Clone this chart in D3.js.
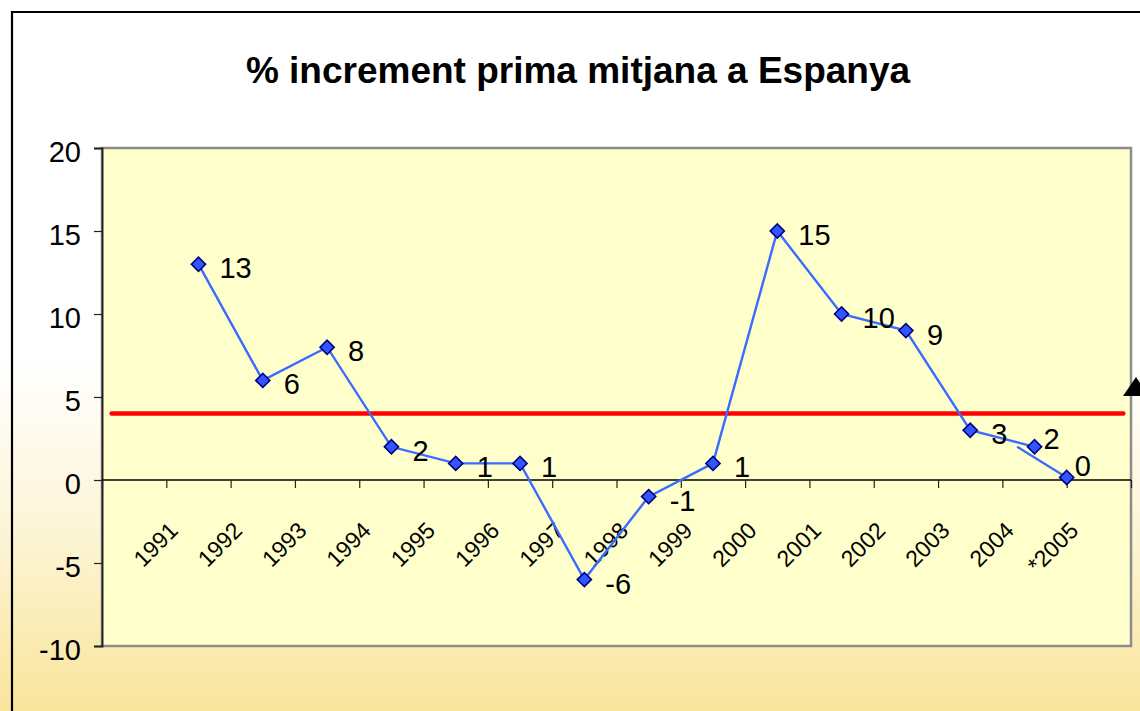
<!DOCTYPE html>
<html>
<head>
<meta charset="utf-8">
<script src="https://cdn.jsdelivr.net/npm/d3@7"></script>
<style>
  html, body { margin: 0; padding: 0; background: #fff; overflow: hidden; }
  svg { display: block; font-family: "Liberation Sans", Arial, sans-serif; }
</style>
</head>
<body>
<svg id="chart" width="1140" height="711"></svg>
<script>
// ---- data ----
const title = "% increment prima mitjana a Espanya";
const categories = ["1991","1992","1993","1994","1995","1996","1997","1998","1999","2000","2001","2002","2003","2004","*2005"];
const values = [13, 6, 8, 2, 1, 1, -6, -1, 1, 15, 10, 9, 3, 2, 0.15];
// where each point sits along the category axis (in slot units, as seen in the picture)
const pointSlots = [1.5, 2.5, 3.5, 4.5, 5.5, 6.5, 7.5, 8.5, 9.5, 10.5, 11.5, 12.5, 13.5, 14.5, 15];
const lastSegmentStartSlot = 14.23;   // final segment restarts slightly left of the 2004 point
const yTicks = [-10, -5, 0, 5, 10, 15, 20];
const slotCount = 16;
const refValue = 4;                   // red reference line
const refSpan = [0.15, 15.88];

// ---- layout ----
const W = 1140, H = 711;
const plot = { left: 102, right: 1131, top: 148, bottom: 646 };
const fmt = v => String(Math.round(v));   // hyphen-minus like the original

const svg = d3.select("#chart");
const defs = svg.append("defs");
const bg = defs.append("linearGradient").attr("id", "bg")
  .attr("x1", 0).attr("y1", 0).attr("x2", 0).attr("y2", 1);
bg.append("stop").attr("offset", "0%").attr("stop-color", "#ffffff");
bg.append("stop").attr("offset", "50%").attr("stop-color", "#ffffff");
bg.append("stop").attr("offset", "72%").attr("stop-color", "#fdf6dc");
bg.append("stop").attr("offset", "100%").attr("stop-color", "#f9e59c");

svg.append("rect").attr("x", 0).attr("y", 0).attr("width", W).attr("height", H).attr("fill", "url(#bg)");

// outer slide frame
svg.append("path").attr("d", `M12,${H + 5} L12,12 L${W + 5},12`)
  .attr("fill", "none").attr("stroke", "#000").attr("stroke-width", 2.2);

const x = d3.scaleLinear().domain([0, slotCount]).range([plot.left, plot.right]);
const y = d3.scaleLinear().domain([-10, 20]).range([plot.bottom, plot.top]);

// plot area
svg.append("rect")
  .attr("x", plot.left).attr("y", plot.top)
  .attr("width", plot.right - plot.left).attr("height", plot.bottom - plot.top)
  .attr("fill", "#ffffcc").attr("stroke", "#8c8c8c").attr("stroke-width", 2.5);

// title
svg.append("text").attr("x", 578).attr("y", 83).attr("text-anchor", "middle")
  .attr("font-size", 37).attr("font-weight", "bold").attr("fill", "#000").text(title);

// y axis
const yAxis = d3.axisLeft(y).tickValues(yTicks).tickSize(8).tickPadding(13).tickFormat(fmt);
const gy = svg.append("g").attr("transform", `translate(${plot.left},0)`).call(yAxis);
gy.select(".domain").attr("stroke", "#222").attr("stroke-width", 1.8);
gy.selectAll(".tick line").attr("stroke", "#222").attr("stroke-width", 1.2);
gy.selectAll(".tick text").attr("font-size", 29).attr("font-family", "Liberation Sans, Arial, sans-serif")
  .attr("fill", "#000").attr("dy", null).attr("y", 13.5);

// x axis on zero line
const xAxis = d3.axisBottom(x).tickValues(d3.range(0, slotCount + 1)).tickSize(8).tickFormat("");
const gx = svg.append("g").attr("transform", `translate(0,${y(0)})`).call(xAxis);
gx.select(".domain").attr("stroke", "#000").attr("stroke-width", 1.5).attr("d", `M${plot.left},0H${plot.right}`);
gx.selectAll(".tick line").attr("stroke", "#222").attr("stroke-width", 1.2);

// category labels, rotated
svg.append("g").selectAll("text").data(categories).join("text")
  .attr("transform", (d, i) => `translate(${x(i + 1) + 13},532) rotate(-45)`)
  .attr("text-anchor", "end").attr("font-size", 23).attr("fill", "#000").text(d => d);

// red reference line
svg.append("line")
  .attr("x1", x(refSpan[0])).attr("x2", x(refSpan[1]))
  .attr("y1", y(refValue)).attr("y2", y(refValue))
  .attr("stroke", "#ff0000").attr("stroke-width", 4.5).attr("stroke-linecap", "round");

// series line
const pts = values.map((v, i) => ({ sx: pointSlots[i], v, cat: categories[i] }));
const line = d3.line().x(d => x(d.sx)).y(d => y(d.v));
const n = pts.length;
svg.append("path").datum(pts.slice(0, n - 1)).attr("d", line)
  .attr("fill", "none").attr("stroke", "#3a6cff").attr("stroke-width", 2.4);
svg.append("path").datum([{ sx: lastSegmentStartSlot, v: values[n - 2] }, pts[n - 1]]).attr("d", line)
  .attr("fill", "none").attr("stroke", "#3a6cff").attr("stroke-width", 2.4);

// markers
const diamond = d3.symbol().type(d3.symbolSquare).size(100);
svg.append("g").selectAll("path").data(pts).join("path")
  .attr("d", diamond)
  .attr("transform", d => `translate(${x(d.sx)},${y(d.v)}) rotate(45)`)
  .attr("fill", "#3355ff").attr("stroke", "#000080").attr("stroke-width", 1.6);

// data labels (the last two are nudged in the original)
const labelNudge = { "2004": [9, 2], "*2005": [8, -2] };
svg.append("g").selectAll("text").data(pts).join("text")
  .attr("x", d => x(d.sx) + (labelNudge[d.cat] ? labelNudge[d.cat][0] : 21))
  .attr("y", d => y(d.v) + (labelNudge[d.cat] ? labelNudge[d.cat][1] : 14))
  .attr("font-size", 29).attr("fill", "#000").text(d => fmt(d.v));

// black arrow head at right edge
svg.append("path")
  .attr("d", d3.line()([[1123, 396], [1136, 377], [1149, 396]]) + "Z")
  .attr("fill", "#000");
</script>
</body>
</html>
